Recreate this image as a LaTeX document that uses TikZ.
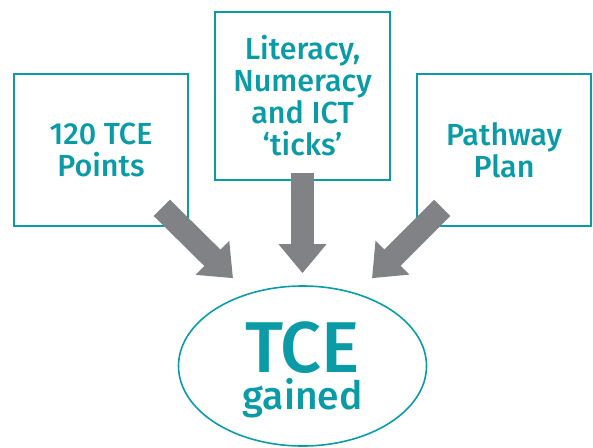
\documentclass[tikz,border=0pt]{standalone}
\usepackage{fontspec}
\setmainfont{Fira Sans}[UprightFont={* Medium}]
\usetikzlibrary{arrows.meta,shapes.geometric}
\definecolor{tceteal}{HTML}{0A9BA7}
\definecolor{tcegrey}{HTML}{808285}

\begin{document}
\begin{tikzpicture}[
            x=1pt, y=-1pt,
            box/.style={draw=tceteal,line width=1.6pt,text=tceteal,align=center,
                font=\fontsize{30.5}{32}\selectfont,inner sep=0pt},
            goal/.style={ellipse,draw=tceteal,line width=1.6pt,text=tceteal,align=center,
                minimum width=248pt,minimum height=160pt,inner sep=0pt,
                font=\fontsize{39}{37}\selectfont,text depth=0pt},
            bigarrow/.style={draw=tcegrey,line width=23pt,
                -{Triangle[width=46pt,length=29pt]}}
            ]
            \useasboundingbox (0,0) rectangle (593,447);
            \node[box,minimum width=174pt,minimum height=152pt] (points) at (101,150) {120 TCE\\Points};
            \node[box,minimum width=175pt,minimum height=168pt] (ticks) at (302.5,96) {Literacy,\\Numeracy\\and ICT\\‘ticks’};
            \node[box,minimum width=174pt,minimum height=152pt] (plan) at (504,150) {Pathway\\Plan};
            \node[goal] (gained) at (302.5,366) {{\fontsize{72}{37}\selectfont TCE}\\gained};
            \draw[bigarrow] ([shift={(-27pt,19pt)}]points.south east) -- ([shift={(-69.5pt,7pt)}]gained.north);
            \draw[bigarrow] ([yshift=8pt]ticks.south) -- ([yshift=12pt]gained.north);
            \draw[bigarrow] ([shift={(26pt,19pt)}]plan.south west) -- ([shift={(69.5pt,7pt)}]gained.north);
\end{tikzpicture}
\end{document}
